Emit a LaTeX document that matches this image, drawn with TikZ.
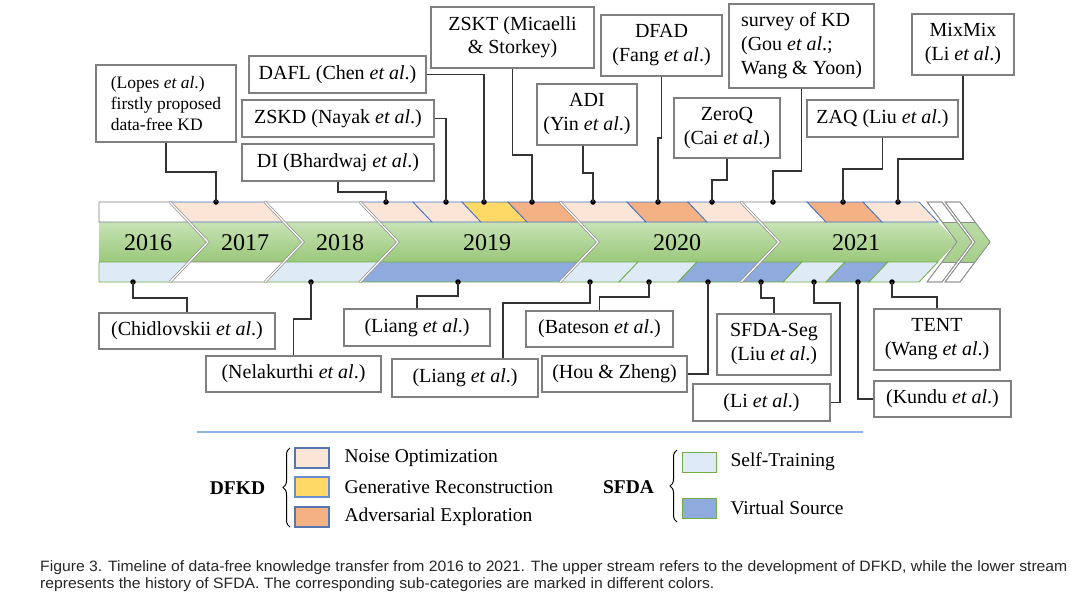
\documentclass[tikz,border=0pt]{standalone}
\usepackage{graphicx}
\usepackage{fontspec}
\setmainfont{Liberation Serif}
\newfontfamily\capfont{Liberation Sans}
\usetikzlibrary{decorations.pathreplacing}
\definecolor{noise}{HTML}{FBE5D6}
\definecolor{gen}{HTML}{FFD966}
\definecolor{adv}{HTML}{F4B183}
\definecolor{selft}{HTML}{DEEBF7}
\definecolor{virt}{HTML}{8FAADC}
\definecolor{dfkdline}{HTML}{4472C4}
\definecolor{sfdaline}{HTML}{70AD47}
\definecolor{boxgray}{HTML}{7F7F7F}
\definecolor{gtop}{HTML}{C7E3B5}
\definecolor{gbot}{HTML}{9AC87A}
\definecolor{legline}{HTML}{8EB4E3}
\newcommand{\ucell}[4]{\filldraw[#4,fill=#3] (#1,202) -- (#2,202) -- (#2+19,222) -- (#1+19,222) -- cycle;}
\newcommand{\lcell}[4]{\filldraw[#4,fill=#3] (#1,262) -- (#2,262) -- (#2-19,282) -- (#1-19,282) -- cycle;}
\newcommand{\chev}[1]{\draw[sep] (#1-38,202) -- (#1-19,222) -- (#1,242) -- (#1-19,262) -- (#1-38,282);}
\begin{document}
\begin{tikzpicture}[x=1pt,y=-1pt,
  box/.style={draw=boxgray,line width=1.3pt,fill=white,inner sep=0pt,align=center,font=\fontsize{20}{24}\selectfont},
  conn/.style={draw=black!80,line width=1.2pt},
  dot/.style={fill=black,circle,inner sep=0pt,minimum size=5.5pt},
  upcell/.style={draw=dfkdline,line width=0.8pt},
  wcell/.style={draw=black!50,line width=0.8pt},
  lowcell/.style={draw=sfdaline,line width=0.8pt},
  sep/.style={draw=black!45,double=white,double distance=1.3pt,line width=0.7pt,line join=miter},
  yr/.style={font=\fontsize{24}{28}\selectfont},
  leg/.style={font=\fontsize{19.5}{22}\selectfont,anchor=west},
  swatch/.style={minimum width=34pt,minimum height=20pt,inner sep=0pt,line width=1.2pt},
  capt/.style={anchor=base west,inner sep=0pt,font=\capfont\fontsize{15}{18}\selectfont,text=black!85},
]
\useasboundingbox (0,0) rectangle (1080,606);

% green band
\shade[top color=gtop,bottom color=gbot] (99,222) -- (938,222) -- (957,242) -- (938,262) -- (99,262) -- cycle;

% upper stream cells
\filldraw[wcell,fill=white] (99,202) -- (170,202) -- (189,222) -- (99,222) -- cycle;
\ucell{170}{265}{noise}{upcell}
\ucell{265}{360}{white}{wcell}
\ucell{360}{413}{noise}{upcell}
\ucell{413}{462}{noise}{upcell}
\ucell{462}{508}{gen}{upcell}
\ucell{508}{560}{adv}{upcell}
\ucell{560}{627}{noise}{upcell}
\ucell{627}{688}{adv}{upcell}
\ucell{688}{741}{noise}{upcell}
\ucell{741}{807}{white}{wcell}
\ucell{807}{863}{adv}{upcell}
\ucell{863}{919}{noise}{upcell}

% lower stream cells
\filldraw[lowcell,fill=selft] (99,262) -- (189,262) -- (170,282) -- (99,282) -- cycle;
\lcell{189}{284}{white}{wcell}
\lcell{284}{379}{selft}{lowcell}
\lcell{379}{579}{virt}{lowcell}
\lcell{579}{638}{selft}{lowcell}
\lcell{638}{697}{selft}{lowcell}
\lcell{697}{760}{virt}{lowcell}
\lcell{760}{802}{virt}{lowcell}
\lcell{802}{845}{selft}{lowcell}
\lcell{845}{888}{virt}{lowcell}
\lcell{888}{938}{selft}{lowcell}

% year separators
\chev{208}\chev{303}\chev{398}\chev{598}\chev{779}

% end stripes
\foreach \a in {927,945}{
  \filldraw[fill=white,draw=black!45,line width=0.7pt] (\a,202) -- (\a+15,202) -- (\a+45,242) -- (\a+15,282) -- (\a,282) -- (\a+30,242) -- cycle;
  \begin{scope}
    \clip (\a-5,222) rectangle (\a+60,262);
    \shade[top color=gtop,bottom color=gbot] (\a,202) -- (\a+15,202) -- (\a+45,242) -- (\a+15,282) -- (\a,282) -- (\a+30,242) -- cycle;
  \end{scope}
  \draw[draw=black!45,line width=0.7pt,line join=miter] (\a,202) -- (\a+15,202) -- (\a+45,242) -- (\a+15,282) -- (\a,282) -- (\a+30,242) -- cycle;
  \draw[draw=black!45,line width=0.7pt] (\a+15,222) -- (\a+30,222) (\a+15,262) -- (\a+30,262);
}

% years
\node[yr] (y16) at (148,243) {2016};
\node[yr] (y17) at (245,243) {2017};
\node[yr] (y18) at (340,243) {2018};
\node[yr] (y19) at (487,243) {2019};
\node[yr] (y20) at (677,243) {2020};
\node[yr] (y21) at (856,243) {2021};

% dots upper
\node[dot] (dLopes) at (216,202) {};
\node[dot] (dDi) at (386,202) {};
\node[dot] (dZskd) at (446,202) {};
\node[dot] (dDafl) at (484,202) {};
\node[dot] (dZskt) at (532,202) {};
\node[dot] (dAdi) at (593,202) {};
\node[dot] (dDfad) at (658,202) {};
\node[dot] (dZeroq) at (712,202) {};
\node[dot] (dSurvey) at (773,202) {};
\node[dot] (dZaq) at (843,202) {};
\node[dot] (dMix) at (898,202) {};
% dots lower
\node[dot] (dChid) at (133,282) {};
\node[dot] (dNela) at (311,282) {};
\node[dot] (dLa) at (458,282) {};
\node[dot] (dLb) at (590,282) {};
\node[dot] (dBat) at (649,282) {};
\node[dot] (dHou) at (708,282) {};
\node[dot] (dSeg) at (761,282) {};
\node[dot] (dLi) at (814,282) {};
\node[dot] (dKun) at (858,282) {};
\node[dot] (dTent) at (892,282) {};

% upper boxes
\node[box,minimum width=140pt,minimum height=77pt,align=left,font=\fontsize{17.5}{21}\selectfont] (lopes) at (166,103.5) {(Lopes \textit{et al}.)\\firstly proposed\\data-free KD};
\node[box,minimum width=177pt,minimum height=37pt] (dafl) at (337.5,74.5) {DAFL (Chen \textit{et al}.)};
\node[box,minimum width=192pt,minimum height=37pt] (zskd) at (338,118.5) {ZSKD (Nayak \textit{et al}.)};
\node[box,minimum width=192pt,minimum height=37pt] (di) at (338,162.5) {DI (Bhardwaj \textit{et al}.)};
\node[box,minimum width=163pt,minimum height=61pt,font=\fontsize{20}{23}\selectfont] (zskt) at (512.5,37.5) {ZSKT (Micaelli\\\& Storkey)};
\node[box,minimum width=121pt,minimum height=61pt] (dfad) at (661.5,45.5) {DFAD\\(Fang \textit{et al}.)};
\node[box,minimum width=100pt,minimum height=61pt] (adi) at (587,114.5) {ADI\\(Yin \textit{et al}.)};
\node[box,minimum width=106pt,minimum height=60pt] (zeroq) at (727,128) {ZeroQ\\(Cai \textit{et al}.)};
\node[box,minimum width=145pt,minimum height=84pt,align=left] (survey) at (801.5,46) {survey of KD\\(Gou \textit{et al}.;\\Wang \& Yoon)};
\node[box,minimum width=151pt,minimum height=37pt] (zaq) at (882.5,118.5) {ZAQ (Liu \textit{et al}.)};
\node[box,minimum width=102pt,minimum height=61pt] (mixmix) at (963,44.5) {MixMix\\(Li \textit{et al}.)};

% lower boxes
\node[box,minimum width=176pt,minimum height=36pt] (chid) at (187,331) {(Chidlovskii \textit{et al}.)};
\node[box,minimum width=175pt,minimum height=36pt] (nela) at (293.5,374) {(Nelakurthi \textit{et al}.)};
\node[box,minimum width=146pt,minimum height=37pt] (liang1) at (417,327.5) {(Liang \textit{et al}.)};
\node[box,minimum width=146pt,minimum height=38pt] (liang2) at (465,378) {(Liang \textit{et al}.)};
\node[box,minimum width=147pt,minimum height=36pt] (bateson) at (599.5,329) {(Bateson \textit{et al}.)};
\node[box,minimum width=145pt,minimum height=36pt] (hou) at (614.5,374) {(Hou \& Zheng)};
\node[box,minimum width=114pt,minimum height=61pt] (sfdaseg) at (774,344.5) {SFDA-Seg\\(Liu \textit{et al}.)};
\node[box,minimum width=137pt,minimum height=37pt] (li) at (761.5,402.5) {(Li \textit{et al}.)};
\node[box,minimum width=126pt,minimum height=61pt] (tent) at (937,339.5) {TENT\\(Wang \textit{et al}.)};
\node[box,minimum width=137pt,minimum height=36pt] (kundu) at (942.5,399) {(Kundu \textit{et al}.)};

% upper connectors
\draw[conn] (lopes.south) |- (216,172) -- (dLopes.center);
\draw[conn] (dafl.east) -| (dDafl.center);
\draw[conn] (zskd.east) -| (dZskd.center);
\draw[conn] (di.south) |- (386,192) -- (dDi.center);
\draw[conn] (zskt.south) |- (532,155) -- (dZskt.center);
\draw[conn] ([xshift=-4pt]adi.south) |- (593,173) -- (dAdi.center);
\draw[conn] (dfad.south) |- (658,138) -- (dDfad.center);
\draw[conn] (zeroq.south) |- (712,180) -- (dZeroq.center);
\draw[conn] (survey.south) |- (773,171) -- (dSurvey.center);
\draw[conn] (zaq.south) |- (843,169) -- (dZaq.center);
\draw[conn] (mixmix.south) |- (898,159) -- (dMix.center);
% lower connectors
\draw[conn] (dChid.center) |- (187,298) -- (chid.north);
\draw[conn] (dNela.center) |- (293.5,319) -- (nela.north);
\draw[conn] (dLa.center) |- (417,296) -- (liang1.north);
\draw[conn] (dLb.center) |- (503,303) -- ([xshift=38pt]liang2.north);
\draw[conn] (dBat.center) |- (599.5,297) -- (bateson.north);
\draw[conn] (dHou.center) |- (hou.east);
\draw[conn] (dSeg.center) |- (774,298) -- (sfdaseg.north);
\draw[conn] (dLi.center) |- (840,303) |- (li.east);
\draw[conn] (dTent.center) |- (937,297) -- (tent.north);
\draw[conn] (dKun.center) |- (kundu.west);

% legend
\draw[draw=legline,line width=1.5pt] (197,432) -- (863,432);
\node[font=\bfseries\fontsize{19.5}{22}\selectfont] (dfkd) at (237.5,488) {DFKD};
\draw[decorate,decoration={brace,amplitude=7pt},line width=1pt] (290,527) -- (290,448);
\node[swatch,draw=dfkdline!70!gray,fill=noise] (sw1) at (312,458) {};
\node[swatch,draw=dfkdline!80,fill=gen] (sw2) at (312,487) {};
\node[swatch,draw=dfkdline!70!gray,fill=adv] (sw3) at (312,517) {};
\node[leg] (t1) at (341,458) {Noise Optimization};
\node[leg] (t2) at (341,487) {Generative Reconstruction};
\node[leg] (t3) at (341,517) {Adversarial Exploration};
\node[font=\bfseries\fontsize{19.5}{22}\selectfont] (sfda) at (628.5,487) {SFDA};
\draw[decorate,decoration={brace,amplitude=7pt},line width=1pt] (677,522) -- (677,450);
\node[swatch,draw=sfdaline,fill=selft] (sw4) at (699.5,462.5) {};
\node[swatch,draw=sfdaline,fill=virt] (sw5) at (699.5,508.5) {};
\node[leg] (t4) at (727,462) {Self-Training};
\node[leg] (t5) at (727,508) {Virtual Source};

% caption
\node[capt] (cap1) at (40,571) {\scalebox{1.048}[1]{Figure 3. Timeline of data-free knowledge transfer from 2016 to 2021. The upper stream refers to the development of DFKD, while the lower stream}};
\node[capt] (cap2) at (40,588) {\scalebox{1.048}[1]{represents the history of SFDA. The corresponding sub-categories are marked in different colors.}};
\end{tikzpicture}
\end{document}
